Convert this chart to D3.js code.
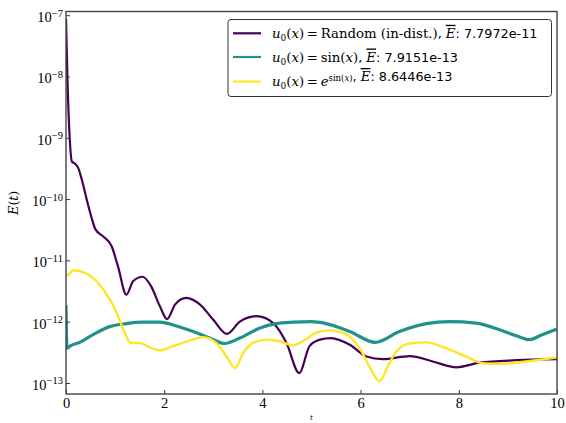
<!DOCTYPE html>
<html>
<head>
<meta charset="utf-8">
<script src="https://cdn.jsdelivr.net/npm/d3@7"></script>
<style>
  body { margin: 0; background: #fff; }
  svg { display: block; }
  .tick text { font-family: "Liberation Serif", serif; font-size: 14.5px; fill: #000; }
  .legend text { font-size: 13.3px; }
</style>
</head>
<body>
<svg width="566" height="423"></svg>
<script>
// error curves E(t) for three initial conditions
const randT = [0, 0.03, 0.07, 0.12, 0.18, 0.25, 0.32, 0.42, 0.52, 0.6, 0.76, 0.93, 1.06, 1.23, 1.37, 1.56, 1.74, 1.91, 2.06, 2.22, 2.45, 2.73, 3.0, 3.28, 3.54, 3.88, 4.22, 4.49, 4.75, 4.96, 5.17, 5.4, 5.78, 6.12, 6.45, 7.0, 7.47, 7.95, 8.42, 9.17, 10];
const randE = [8.7e-8, 8.9e-9, 1.2e-9, 4.1e-10, 3.8e-10, 3.2e-10, 2.1e-10, 1.0e-10, 5.0e-11, 3.2e-11, 2.45e-11, 1.7e-11, 7.9e-12, 2.75e-12, 4.6e-12, 5.4e-12, 3.7e-12, 1.8e-12, 1.1e-12, 1.9e-12, 2.45e-12, 1.9e-12, 1.07e-12, 6.3e-13, 1.0e-12, 1.23e-12, 9.5e-13, 4.5e-13, 1.45e-13, 4.0e-13, 5.1e-13, 5.4e-13, 4.2e-13, 2.7e-13, 2.45e-13, 2.75e-13, 2.24e-13, 1.8e-13, 2.15e-13, 2.35e-13, 2.45e-13];

const sinT = [0, 0.02, 0.08, 0.28, 0.56, 0.89, 1.23, 1.57, 1.91, 2.25, 2.59, 2.93, 3.23, 3.54, 3.95, 4.28, 4.62, 5.0, 5.3, 5.78, 6.3, 6.79, 7.34, 7.81, 8.35, 8.83, 9.17, 9.44, 9.71, 10];
const sinE = [1.85e-12, 3.7e-13, 4.0e-13, 4.6e-13, 6.2e-13, 8.3e-13, 9.3e-13, 9.8e-13, 9.8e-13, 8.5e-13, 6.9e-13, 5.4e-13, 4.4e-13, 5.4e-13, 7.9e-13, 9.3e-13, 9.8e-13, 1.0e-12, 9.3e-13, 6.9e-13, 4.6e-13, 6.9e-13, 9.3e-13, 1.0e-12, 9.5e-13, 7.4e-13, 5.9e-13, 5.1e-13, 6.2e-13, 7.6e-13];

const expT = [0, 0.03, 0.15, 0.4, 0.62, 0.83, 1.0, 1.17, 1.32, 1.5, 1.71, 1.91, 2.18, 2.52, 2.79, 3.06, 3.27, 3.44, 3.61, 3.81, 4.08, 4.35, 4.62, 4.9, 5.1, 5.37, 5.71, 5.98, 6.18, 6.39, 6.55, 6.73, 7.0, 7.34, 7.74, 8.15, 8.49, 8.83, 9.37, 10];
const expE = [6.0e-12, 5.75e-12, 6.9e-12, 6.2e-12, 4.6e-12, 2.75e-12, 1.6e-12, 7.4e-13, 4.5e-13, 4.5e-13, 3.8e-13, 3.4e-13, 4.0e-13, 4.9e-13, 5.6e-13, 4.5e-13, 2.7e-13, 1.75e-13, 3.1e-13, 4.5e-13, 5.1e-13, 4.8e-13, 4.1e-13, 5.25e-13, 6.6e-13, 7.2e-13, 6.2e-13, 3.7e-13, 1.85e-13, 1.07e-13, 1.85e-13, 3.3e-13, 4.4e-13, 4.6e-13, 3.7e-13, 2.7e-13, 2.1e-13, 2.05e-13, 2.24e-13, 2.6e-13];

const xTicks = [0, 2, 4, 6, 8, 10];
const yExps = [-7, -8, -9, -10, -11, -12, -13];
const seriesNames = ["Random (in-dist.)", "sin", "exp"];
const seriesMeans = ["7.7972e-11", "7.9151e-13", "8.6446e-13"];
const colors = ["#440154", "#21918c", "#fde725"];

const svg = d3.select("svg");
const padL = 66, padR = 557, padT = 11.5, padB = 394;

const x = d3.scaleLinear().domain([0, 10]).range([padL, padR]);
const y = d3.scaleLog().domain([Math.pow(10, -13.18), Math.pow(10, -6.94)]).range([padB, padT]);

// curves, drawn first so the frame sits on top
const line = d3.line()
  .x(d => x(d[0]))
  .y(d => y(d[1]))
  .curve(d3.curveMonotoneX);

const series = [
  { t: randT, e: randE, w: 2.2 },
  { t: sinT, e: sinE, w: 3.2 },
  { t: expT, e: expE, w: 2.4 }
];

svg.append("clipPath").attr("id", "plotArea")
  .append("rect")
  .attr("x", padL).attr("y", padT)
  .attr("width", padR - padL).attr("height", padB - padT);

const plot = svg.append("g").attr("clip-path", "url(#plotArea)");
series.forEach((s, i) => {
  plot.append("path")
    .datum(s.t.map((t, j) => [t, s.e[j]]))
    .attr("fill", "none")
    .attr("stroke", colors[i])
    .attr("stroke-width", s.w)
    .attr("stroke-linejoin", "round")
    .attr("d", line);
});

// axes with inward ticks
const xAxis = d3.axisBottom(x).tickValues(xTicks).tickSize(-4).tickPadding(4).tickFormat(d3.format("d"));
const gx = svg.append("g")
  .attr("transform", `translate(0,${padB})`)
  .call(xAxis);
gx.select(".domain").remove();
gx.selectAll(".tick line").attr("stroke", "#333");

const yAxis = d3.axisLeft(y).tickValues(yExps.map(e => Math.pow(10, e))).tickSize(-4).tickPadding(3).tickFormat("");
const gy = svg.append("g")
  .attr("transform", `translate(${padL},0)`)
  .call(yAxis);
gy.select(".domain").remove();
gy.selectAll(".tick line").attr("stroke", "#333");
gy.selectAll(".tick text").each(function(d, i) {
  const t = d3.select(this).attr("dy", "6.5");
  t.append("tspan").text("10");
  t.append("tspan").attr("dy", "-5.5").attr("font-size", "10.5px").text("\u2212" + (-yExps[i]));
});

// frame
svg.append("rect")
  .attr("x", padL).attr("y", padT)
  .attr("width", padR - padL).attr("height", padB - padT)
  .attr("fill", "none")
  .attr("stroke", "#444")
  .attr("stroke-width", 1.4);

// axis titles
svg.append("text")
  .attr("transform", `translate(18,${(padT + padB) / 2}) rotate(-90)`)
  .attr("text-anchor", "middle")
  .attr("font-family", "DejaVu Serif, serif")
  .attr("font-size", "12.5px")
  .html('<tspan font-style="italic">E</tspan>(<tspan font-style="italic">t</tspan>)');

svg.append("text")
  .attr("x", (padL + padR) / 2)
  .attr("y", 420)
  .attr("text-anchor", "middle")
  .attr("font-family", "DejaVu Serif, serif")
  .attr("font-style", "italic")
  .attr("font-size", "7px")
  .text("t");

// legend
const lg = svg.append("g").attr("class", "legend");
lg.append("rect")
  .attr("x", 228).attr("y", 19.5)
  .attr("width", 323.5).attr("height", 77)
  .attr("rx", 3)
  .attr("fill", "#fff")
  .attr("stroke", "#333")
  .attr("stroke-width", 1);

const rowY = [33.3, 57, 81.5];
const serif = "DejaVu Serif, serif", sans = "DejaVu Sans, sans-serif";

seriesNames.forEach((name, i) => {
  lg.append("line")
    .attr("x1", 233).attr("x2", 261)
    .attr("y1", rowY[i]).attr("y2", rowY[i])
    .attr("stroke", colors[i])
    .attr("stroke-width", 2.2);

  const txt = lg.append("text")
    .attr("x", 272)
    .attr("y", rowY[i] + 4.5)
    .attr("font-family", serif);
  txt.append("tspan").attr("font-style", "italic").text("u");
  txt.append("tspan").attr("font-size", "9px").attr("dy", "3").text("0");
  txt.append("tspan").attr("dy", "-3").text("(");
  txt.append("tspan").attr("font-style", "italic").text("x");
  txt.append("tspan").text(")\u2009=\u2009");
  if (name === "sin") {
    txt.append("tspan").text("sin(");
    txt.append("tspan").attr("font-style", "italic").text("x");
    txt.append("tspan").text(")");
  } else if (name === "exp") {
    txt.append("tspan").attr("font-style", "italic").text("e");
    txt.append("tspan").attr("font-size", "8.5px").attr("dy", "-5").text("sin(");
    txt.append("tspan").attr("font-size", "8.5px").attr("font-style", "italic").text("x");
    txt.append("tspan").attr("font-size", "8.5px").text(")");
    txt.append("tspan").attr("dy", "5").text("");
  } else {
    txt.append("tspan").text(name);
  }
  txt.append("tspan").attr("font-family", sans).attr("font-size", "12.8px").text(", ");
  txt.append("tspan").attr("font-style", "italic").style("text-decoration", "overline").text("E");
  txt.append("tspan").attr("font-family", sans).attr("font-size", "12.8px").text(": " + seriesMeans[i]);
});
</script>
</body>
</html>
